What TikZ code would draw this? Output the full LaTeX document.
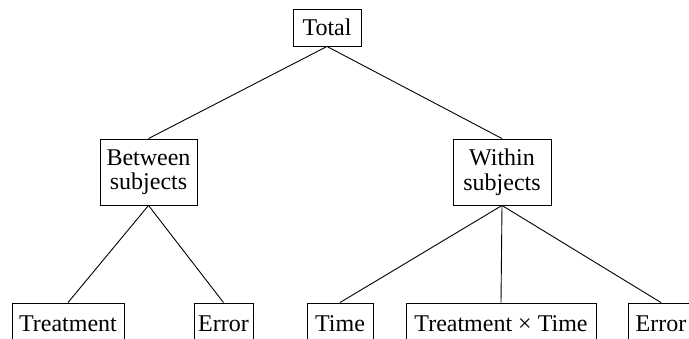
\documentclass[tikz,border=0pt]{standalone}
\usepackage{fontspec}
\setmainfont{Liberation Serif}
\begin{document}
\begin{tikzpicture}[x=1pt,y=-1pt,
  box/.style={draw, line width=0.9pt, inner sep=0pt, align=center,
    font=\fontsize{24}{24.5}\selectfont},
  link/.style={line width=0.9pt}]
\useasboundingbox (0,0) rectangle (689,338);
\clip (0,0) rectangle (689,338);
\node[box, minimum width=68pt, minimum height=37pt] (total) at (327,27.5) {Total};
\node[box, minimum width=97pt, minimum height=66pt] (between) at (148.5,172) {Between\\subjects};
\node[box, minimum width=98pt, minimum height=66pt] (within) at (502,172) {Within\\subjects};
\node[box, minimum width=112pt, minimum height=42pt] (treat) at (68,324) {Treatment};
\node[box, minimum width=59pt, minimum height=42pt] (err1) at (223.5,324) {Error};
\node[box, minimum width=66pt, minimum height=42pt] (time) at (340,324) {Time};
\node[box, minimum width=190pt, minimum height=42pt] (txt) at (501,324) {Treatment × Time};
\node[box, minimum width=66pt, minimum height=42pt] (err2) at (661,324) {Error};
\draw[link] (total.south) -- (between.north);
\draw[link] (total.south) -- (within.north);
\draw[link] (between.south) -- (treat.north);
\draw[link] (between.south) -- (err1.north);
\draw[link] (within.south) -- (time.north);
\draw[link] (within.south) -- (txt.north);
\draw[link] (within.south) -- (err2.north);
\end{tikzpicture}
\end{document}
